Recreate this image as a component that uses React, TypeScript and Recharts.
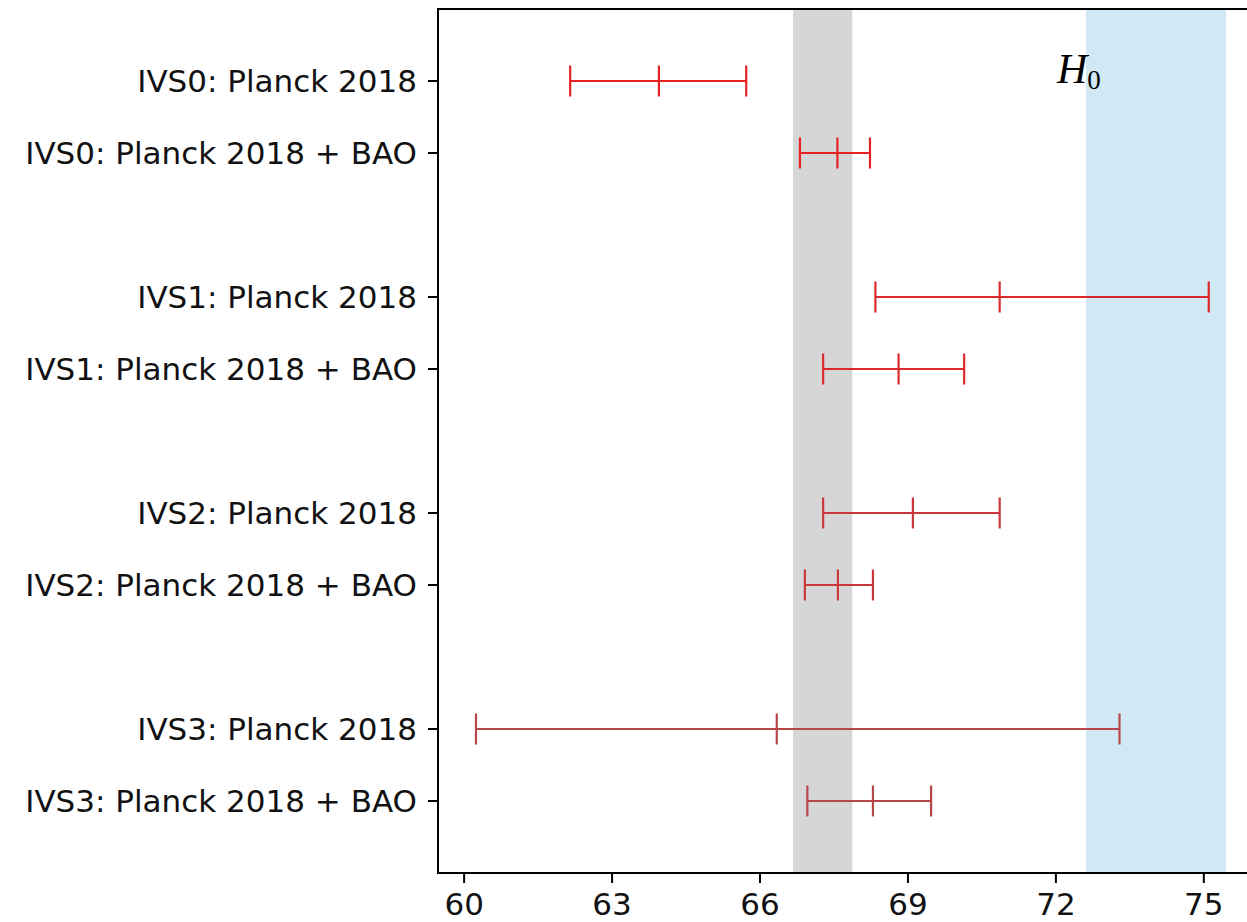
import { ScatterChart, Scatter, XAxis, YAxis, ErrorBar, ReferenceArea } from "recharts"

// row labels, top to bottom (two rows per model, gap row between models)
const labels = [
  "IVS0: Planck 2018", "IVS0: Planck 2018 + BAO",
  "IVS1: Planck 2018", "IVS1: Planck 2018 + BAO",
  "IVS2: Planck 2018", "IVS2: Planck 2018 + BAO",
  "IVS3: Planck 2018", "IVS3: Planck 2018 + BAO",
]
const rowPos = [0, 1, 3, 4, 6, 7, 9, 10]

// H0 central values and lower / upper errors
const h0 = [63.95, 67.57, 70.86, 68.81, 69.10, 67.58, 66.34, 68.29]
const errLow = [1.80, 0.76, 2.52, 1.53, 1.82, 0.67, 6.10, 1.33]
const errHigh = [1.77, 0.66, 4.24, 1.33, 1.76, 0.71, 6.95, 1.18]

const groupColors = ["#e82222", "#dc2a2c", "#cb383c", "#b8474a"]

// Planck 2018 and SH0ES bands
const planckBand = [66.67, 67.87]
const shoesBand = [72.61, 75.45]

const xTicks = [60, 63, 66, 69, 72, 75]
const xDomain = [59.47, 76.2]
const yDomain = [-1, 11]

const groups = groupColors.map((color, g) => ({
  color,
  data: [2 * g, 2 * g + 1].map(i => ({
    x: h0[i],
    y: rowPos[i],
    err: [errLow[i], errHigh[i]],
  })),
}))

const font = { fontFamily: "DejaVu Sans", fontSize: 31, fill: "#111" }

const CenterMark = (props: any) => (
  <line x1={props.cx} x2={props.cx} y1={props.cy - 15.5} y2={props.cy + 15.5} stroke={props.fill} strokeWidth={2.2} />
)

const H0Label = ({ viewBox }: any) => (
  <text x={viewBox.x - 29} y={viewBox.y + 74} fontFamily="Liberation Serif" fill="#000">
    <tspan fontStyle="italic" fontSize={42}>H</tspan>
    <tspan fontSize={27} dy={6}>0</tspan>
  </text>
)

export default function App() {
  return (
    <div style={{ position: "absolute", left: 0, top: 0, width: 1247, height: 922, overflow: "hidden", background: "#fff" }}>
      <ScatterChart width={1273} height={922} margin={{ top: 9, right: 10, bottom: 9, left: 0 }}>
        <XAxis
          type="number" dataKey="x" domain={xDomain} ticks={xTicks} allowDataOverflow
          axisLine={false} tickSize={10} tickMargin={10}
          tickLine={{ stroke: "#000", strokeWidth: 2 }} tick={font} height={40}
        />
        <YAxis
          type="number" dataKey="y" domain={yDomain} reversed ticks={rowPos} allowDataOverflow
          tickFormatter={(v: number) => labels[rowPos.indexOf(v)]}
          axisLine={false} tickSize={10} tickMargin={11} width={438}
          tickLine={{ stroke: "#000", strokeWidth: 2 }} tick={font}
        />
        <ReferenceArea x1={planckBand[0]} x2={planckBand[1]} y1={yDomain[0]} y2={yDomain[1]} fill="#d6d6d6" fillOpacity={1} stroke="none" />
        <ReferenceArea x1={shoesBand[0]} x2={shoesBand[1]} y1={yDomain[0]} y2={yDomain[1]} fill="#d0e9f5" fillOpacity={1} stroke="none" label={H0Label} />
        <ReferenceArea x1={xDomain[0]} x2={xDomain[1]} y1={yDomain[0]} y2={yDomain[1]} fill="none" stroke="#000" strokeWidth={2} />
        {groups.map((grp, g) => (
          <Scatter key={g} data={grp.data} fill={grp.color} shape={CenterMark} isAnimationActive={false}>
            <ErrorBar dataKey="err" direction="x" width={15.5} stroke={grp.color} strokeWidth={2.2} isAnimationActive={false} />
          </Scatter>
        ))}
      </ScatterChart>
    </div>
  )
}
